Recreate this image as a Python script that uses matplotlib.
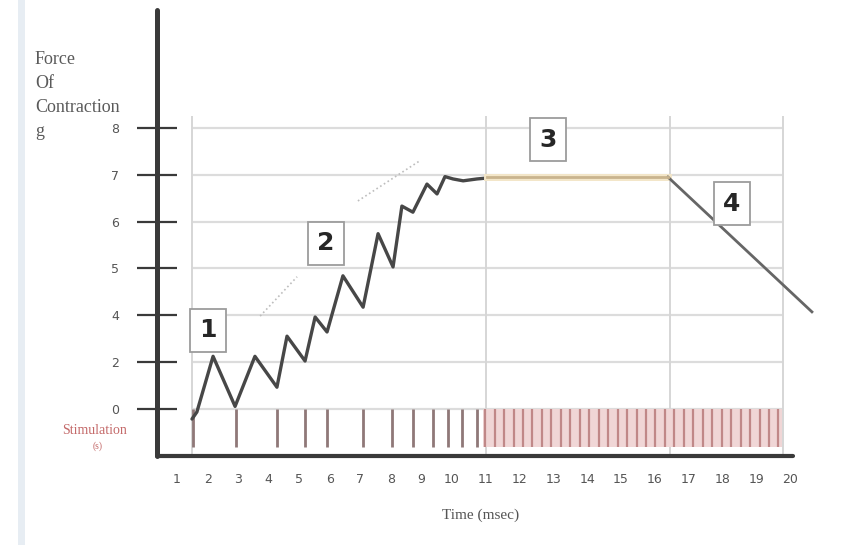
import numpy as np
import matplotlib
matplotlib.use("Agg")
import matplotlib.pyplot as plt
from matplotlib.patches import Rectangle

# ---------------- data ----------------
# force curve (time in ms, force in y-tick index units)
curve_t = [1.49, 1.65, 2.18, 2.90, 3.55, 4.27, 4.60, 5.19, 5.52, 5.91, 6.43, 7.09,
           7.58, 8.07, 8.36, 8.72, 9.18, 9.51, 9.77, 10.03, 10.33, 10.74, 11.04]
curve_f = [-0.22, -0.07, 1.12, 0.05, 1.12, 0.46, 1.55, 1.02, 1.96, 1.64, 2.84, 2.17,
           3.74, 3.03, 4.33, 4.20, 4.80, 4.59, 4.96, 4.91, 4.87, 4.91, 4.93]
plateau_t = [11.04, 16.39]
plateau_f = [4.95, 4.95]
fatigue_t = [16.39, 20.65]
fatigue_f = [4.95, 2.07]

stim_sparse = [1.52, 2.93, 4.27, 5.19, 5.91, 7.09, 8.04, 8.72, 9.38, 9.87, 10.30, 10.74]
stim_dense = [10.98, 11.26, 11.54, 11.82, 12.10, 12.38, 12.66, 12.94, 13.22, 13.50,
              13.78, 14.06, 14.34, 14.62, 14.90, 15.18, 15.46, 15.74, 16.02, 16.30,
              16.58, 16.86, 17.14, 17.42, 17.70, 17.98, 18.26, 18.54, 18.82, 19.10,
              19.38, 19.66]

x_ticks = list(range(1, 21))
x_labels = [str(i) for i in x_ticks]
y_ticks = [0, 1, 2, 3, 4, 5, 6]
y_labels = ["0", "2", "4", "5", "6", "7", "8"]
ylabel_lines = ["Force", "Of", "Contraction", "g"]

grid_x = [1.49, 11.0, 16.45, 19.78]

# ---------------- figure ----------------
fig = plt.figure(figsize=(8.55, 5.45), dpi=100)
fig.patch.set_facecolor("white")
fig.patches.append(Rectangle((18 / 855, 0), 7 / 855, 1, transform=fig.transFigure,
                             facecolor="#e7edf3", edgecolor="none", zorder=0))

ax = fig.add_axes([157 / 855, (545 - 456) / 545, 636 / 855, 446 / 545])


def fwd(t):
    t = np.asarray(t, dtype=float)
    return np.where(t <= 10, t, 10 + (t - 10) * 1.106)


def inv(u):
    u = np.asarray(u, dtype=float)
    return np.where(u <= 10, u, 10 + (u - 10) / 1.106)


ax.set_xscale("function", functions=(fwd, inv))
ax.set_xlim(0.345, 20.09)
ax.set_ylim(-1.01, 8.52)

# grid
ax.hlines(y_ticks, 1.49, 19.78, color="#dcdcdc", lw=1.6, zorder=1)
ax.vlines(grid_x, -1.0, 6.26, color="#d6d6d6", lw=1.4, zorder=1)

# stimulation marks
ax.fill_between([10.92, 19.75], -0.82, 0, color="#f0d6d6", lw=0, zorder=1.5)
ax.vlines(stim_sparse, -0.82, 0, color="#8f7878", lw=2.0, zorder=2)
ax.vlines(stim_dense, -0.82, 0, color="#c08888", lw=1.6, zorder=2)

# faint dotted guide lines
ax.plot([3.72, 4.93], [1.98, 2.82], ls=":", color="#bdbdbd", lw=1.2, zorder=2)
ax.plot([6.92, 8.95], [4.44, 5.30], ls=":", color="#bdbdbd", lw=1.2, zorder=2)

# force curve
ax.plot(curve_t, curve_f, color="#474747", lw=2.4, solid_joinstyle="round",
        solid_capstyle="round", zorder=3)
ax.plot(plateau_t, plateau_f, color="#f3e6c8", lw=5, zorder=3)
ax.plot(plateau_t, plateau_f, color="#c9b48e", lw=2.0, zorder=3.1)
ax.plot(fatigue_t, fatigue_f, color="#666666", lw=2.0, zorder=3, clip_on=False)

# numbered boxes
box = dict(boxstyle="square,pad=0.38", fc="white", ec="#9c9c9c", lw=1.3)
for label, tx, fy in [("1", 2.01, 1.68), ("2", 5.88, 3.54), ("3", 12.84, 5.75), ("4", 18.28, 4.38)]:
    ax.text(tx, fy, label, ha="center", va="center", fontsize=18, fontweight="bold",
            color="#262626", bbox=box, zorder=5)

# spines
for s in ["top", "right"]:
    ax.spines[s].set_visible(False)
ax.spines["left"].set_linewidth(3.6)
ax.spines["left"].set_color("#3a3a3a")
ax.spines["bottom"].set_linewidth(3.0)
ax.spines["bottom"].set_color("#3a3a3a")
ax.spines["left"].set_capstyle("round")
ax.spines["bottom"].set_capstyle("round")

ax.set_yticks(y_ticks)
ax.set_yticklabels(y_labels)
ax.tick_params(axis="y", direction="inout", length=29, width=1.6, color="#3a3a3a",
               pad=13, labelsize=9, labelcolor="#555555")
ax.set_xticks(x_ticks)
ax.set_xticklabels(x_labels)
ax.xaxis.set_minor_locator(matplotlib.ticker.NullLocator())
ax.tick_params(axis="x", length=0, pad=12, labelsize=9, labelcolor="#555555")

# labels
for line, ypix in zip(ylabel_lines, [60, 84, 107, 131]):
    fig.text(35 / 855, 1 - ypix / 545, line, ha="left", va="center",
             family="Liberation Serif", fontsize=13, color="#5a5a5a")
fig.text(95 / 855, 1 - 430 / 545, "Stimulation", ha="center", va="center",
         family="Liberation Serif", fontsize=10, color="#c46a6a")
fig.text(98 / 855, 1 - 446 / 545, "(s)", ha="center", va="center",
         family="Liberation Serif", fontsize=7, color="#c46a6a")
fig.text(481 / 855, 1 - 515 / 545, "Time (msec)", ha="center", va="center",
         family="Liberation Serif", fontsize=11, color="#555555")

fig.savefig("out.png", dpi=100)
